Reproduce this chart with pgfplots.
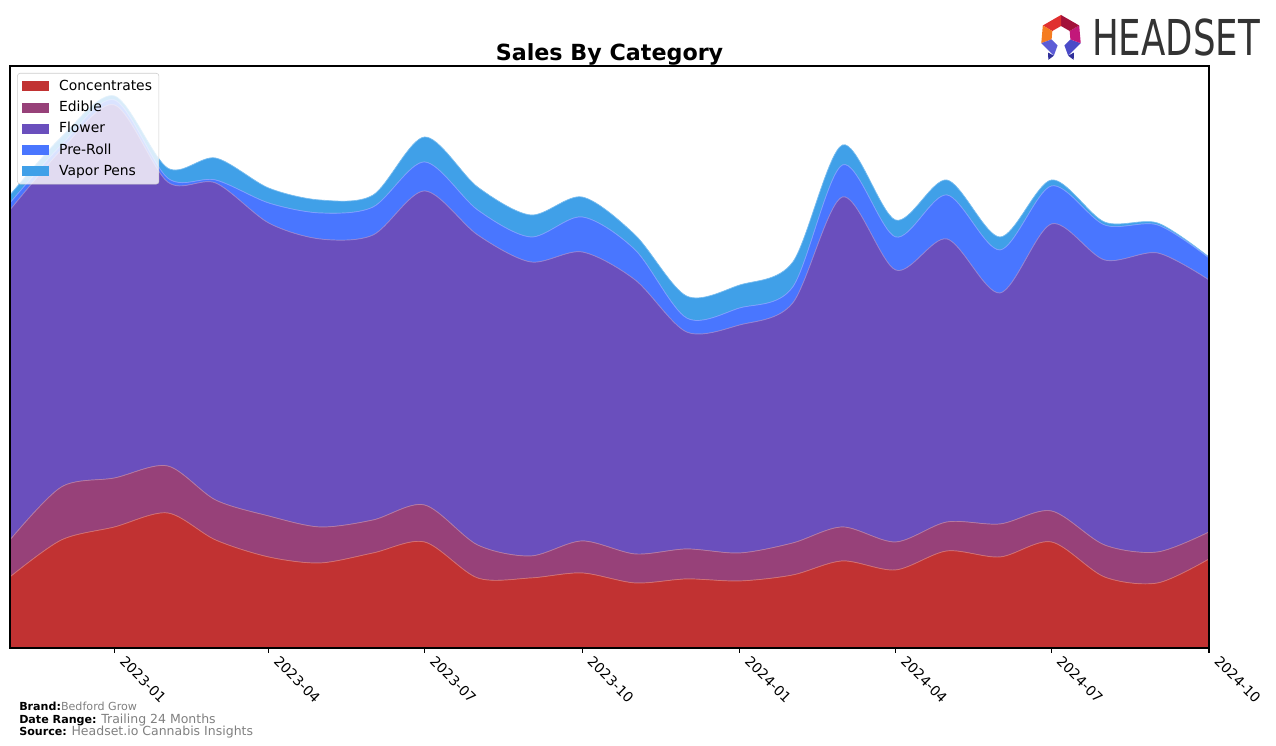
\documentclass[border=0pt]{standalone}
\usepackage{pgfplots}
\pgfplotsset{compat=1.18}
\usepackage{pgfplotstable}
\usepackage{fontspec}
\setmainfont{DejaVu Sans}
\definecolor{cConc}{HTML}{C13232}
\definecolor{cEdib}{HTML}{974179}
\definecolor{cFlow}{HTML}{6A4FBD}
\definecolor{cPre}{HTML}{4976FF}
\definecolor{cVap}{HTML}{40A0E8}
\definecolor{cGray}{HTML}{808080}
\definecolor{lgA}{HTML}{4B4BC8}
\definecolor{lgB}{HTML}{C2187A}
\definecolor{lgC}{HTML}{A3123A}
\definecolor{lgD}{HTML}{E0302F}
\definecolor{lgE}{HTML}{F57C20}
\definecolor{lgF}{HTML}{5C5CD6}
\definecolor{lgG}{HTML}{30309A}
\pgfplotstableread{
x C E F P V
-61 71 37 330 7 8
-31 108 53 337 5 8
0 121 49 373 5 4
31 135 47 284 4 10
59 108 40 317 3 22
90 91 41 293 20 15
120 85 36 288 26 13
151 95 33 285 28 12
181 106 37 314 29 25
212 70 33 310 25 23
243 70 22 294 25 22
273 75 32 289 35 20
304 65 29 274 30 15
334 69 30 217 14 22
365 67 28 228 17 23
396 73 32 240 16 25
425 87 34 330 32 20
456 78 28 272 33 17
486 97 29 283 44 15
517 91 33 231 43 13
547 106 31 287 38 6
578 71 32 285 35 3
609 65 31 299 28 2
639 89 27 252 22 1
}\datatable
\begin{document}
\begin{tikzpicture}
\path[use as bounding box] (-7.2pt,-70.56pt) rectangle (911.52pt,466.56pt);
\begin{axis}[
  at={(0,0)}, anchor=south west,
  scale only axis, width=863.28pt, height=419.04pt,
  xmin=-61, xmax=639, ymin=0, ymax=582,
  stack plots=y,
  xtick={0,90,181,273,365,456,547,639},
  xticklabels={2023-01,2023-04,2023-07,2023-10,2024-01,2024-04,2024-07,2024-10},
  ytick=\empty,
  xtick pos=bottom,
  tick align=outside, major tick length=3.5pt,
  xtick style={black, line width=0.8pt},
  x tick label style={xshift=8.5pt, rotate=-45, anchor=north west, font=\fontsize{10}{12}\selectfont, inner sep=1pt},
  axis line style={line width=0.8pt},
  axis on top,
  legend cell align=left,
  legend style={at={(0.006,0.988)}, anchor=north west, draw=black!20, rounded corners=2pt,
    fill=white, fill opacity=0.8, text opacity=1, draw opacity=1,
    font=\fontsize{10}{12}\selectfont, inner xsep=3pt, inner ysep=3pt, row sep=2.2pt},
  legend image code/.code={\fill[#1, draw=none, fill opacity=1, sharp corners] (0pt,-3.6pt) rectangle (20pt,3.6pt); \path[draw=none, fill=none] (0pt,0pt) -- (25pt,0pt);},
]
\addplot[fill=cConc, draw=cConc!70!white, line width=0.5pt, smooth] table[x=x,y=C]{\datatable} \closedcycle;
\addplot[fill=cEdib, draw=cEdib!70!white, line width=0.5pt, smooth] table[x=x,y=E]{\datatable} \closedcycle;
\addplot[fill=cFlow, draw=cFlow!70!white, line width=0.5pt, smooth] table[x=x,y=F]{\datatable} \closedcycle;
\addplot[fill=cPre, draw=cPre!70!white, line width=0.5pt, smooth] table[x=x,y=P]{\datatable} \closedcycle;
\addplot[fill=cVap, draw=cVap!70!white, line width=0.5pt, smooth] table[x=x,y=V]{\datatable} \closedcycle;
\legend{Concentrates,Edible,Flower,Pre-Roll,Vapor Pens}
\end{axis}
\begin{scope}[shift={(-7.2pt,466.56pt)}, x=0.72pt, y=-0.72pt]
\node[font=\bfseries\fontsize{16}{19}\selectfont, anchor=base] at (609.5,61) {Sales By Category};
\node[anchor=base west, inner sep=0, text=black!80, xscale=0.72, font=\fontsize{35.6}{36}\selectfont] at (1092,56) {HEADSET};
\begin{scope}[shift={(1061,36)}]
\fill[lgA] (70:21)--(20:21)--(20:10)--(70:10)--cycle;
\fill[lgB] (20:21)--(-30:21)--(-30:10)--(20:10)--cycle;
\fill[lgC] (-30:21)--(-90:21)--(-90:10)--(-30:10)--cycle;
\fill[lgD] (-90:21)--(-150:21)--(-150:10)--(-90:10)--cycle;
\fill[lgE] (-150:21)--(-200:21)--(-200:10)--(-150:10)--cycle;
\fill[lgF] (160:21)--(110:21)--(110:10)--(160:10)--cycle;
\fill[lgG] (110:21)--(128:21)--(118:27)--cycle;
\fill[lgG] (70:21)--(52:21)--(62:27)--cycle;
\end{scope}
\node[anchor=base west, inner sep=0, font=\fontsize{8}{9}\selectfont] at (19,711) {\textbf{Brand:}\textcolor{cGray}{Bedford Grow}};
\node[anchor=base west, inner sep=0, font=\fontsize{8}{9}\selectfont] at (19,724) {\textbf{Date Range:} \textcolor{cGray}{\fontsize{9}{10}\selectfont Trailing 24 Months}};
\node[anchor=base west, inner sep=0, font=\fontsize{8}{9}\selectfont] at (19,736) {\textbf{Source:} \textcolor{cGray}{\fontsize{9}{10}\selectfont Headset.io Cannabis Insights}};
\end{scope}
\end{tikzpicture}
\end{document}
